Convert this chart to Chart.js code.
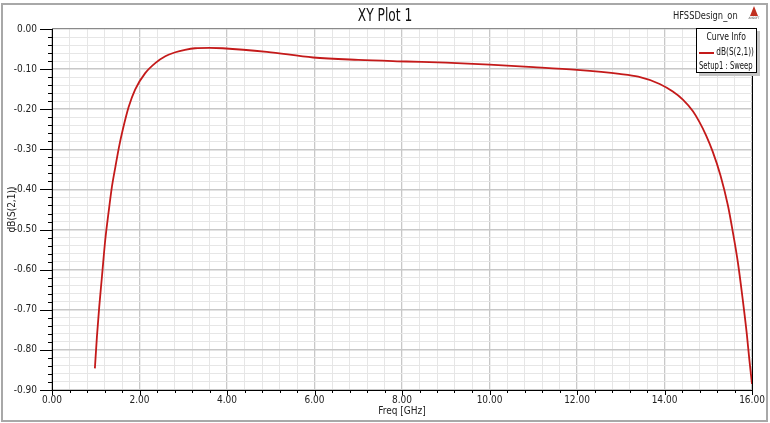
<!DOCTYPE html>
<html>
<head>
<meta charset="utf-8">
<script src="https://cdn.jsdelivr.net/npm/chart.js@4.4.0/dist/chart.umd.min.js"></script>
<style>
  body { margin: 0; background: #fff; }
  #wrap { position: relative; width: 770px; height: 423px; font-family: 'Liberation Sans Narrow', 'DejaVu Sans Condensed', 'Liberation Sans', Arial, sans-serif; }
  .sq { display: inline-block; white-space: nowrap; }
  #title { position: absolute; left: 0; width: 770px; top: 5px; text-align: center; font-size: 17px; color: #111; }
  #title .sq { transform: scaleX(0.8); }
  #design { position: absolute; left: 673px; top: 9px; font-size: 11px; color: #222; }
  #design .sq { transform: scaleX(0.84); transform-origin: left center; }
  #logo { position: absolute; left: 747px; top: 6px; width: 14px; text-align: center; font-size: 3px; line-height: 4px; color: #444; }
  #logo .tri { width: 0; height: 0; margin: 0 auto; border-left: 4px solid transparent; border-right: 4px solid transparent; border-bottom: 10px solid #c03020; }
  #legend { position: absolute; left: 696px; top: 28px; width: 59px; height: 43px; background: #fff; border: 1px solid #000; box-shadow: 3px 3px 0 #c4c4c4; font-size: 10px; color: #111; }
  #legend .hd { position: absolute; left: 0; right: 0; top: 2px; text-align: center; }
  #legend .hd .sq { transform: scaleX(0.85); }
  #legend .sw { position: absolute; left: 2px; top: 23px; width: 15px; height: 2px; background: #c41a1a; }
  #legend .nm { position: absolute; right: 2px; top: 17px; }
  #legend .nm .sq { transform: scaleX(0.82); transform-origin: right center; }
  #legend .st { position: absolute; left: 2px; top: 31px; }
  #legend .st .sq { transform: scaleX(0.76); transform-origin: left center; }
</style>
</head>
<body>
<div id="wrap">
  <canvas id="chart1" width="770" height="423"></canvas>
  <div id="title"><span class="sq">XY Plot 1</span></div>
  <div id="design"><span class="sq">HFSSDesign_on</span></div>
  <div id="logo"><div class="tri"></div>ANSOFT</div>
  <div id="legend">
    <div class="hd"><span class="sq">Curve Info</span></div>
    <div class="sw"></div>
    <div class="nm"><span class="sq">dB(S(2,1))</span></div>
    <div class="st"><span class="sq">Setup1 : Sweep</span></div>
  </div>
</div>
<script>
// frequency in GHz and dB(S(2,1))
var freq = [0.98, 1.027, 1.08, 1.142, 1.217, 1.292, 1.37, 1.45, 1.53, 1.62, 1.75, 1.90, 2.13, 2.36, 2.59, 2.82, 3.04, 3.27, 3.60, 3.90,
            4.91, 5.97, 7.00, 8.10, 9.00, 10.00, 11.00, 12.00, 12.97, 13.40, 13.89, 14.19, 14.42, 14.65, 14.80, 14.95,
            15.10, 15.28, 15.45, 15.56, 15.68, 15.79, 15.88, 15.94, 16.00];
var s21 = [-0.846, -0.767, -0.692, -0.617, -0.526, -0.458, -0.393, -0.343, -0.295, -0.250, -0.195, -0.151, -0.110, -0.085, -0.068, -0.058, -0.052, -0.048, -0.047, -0.048,
           -0.057, -0.071, -0.077, -0.081, -0.084, -0.089, -0.095, -0.102, -0.112, -0.119, -0.137, -0.156, -0.176, -0.205, -0.232, -0.265,
           -0.305, -0.365, -0.440, -0.505, -0.584, -0.676, -0.759, -0.825, -0.885];
var xMin = 0, xMax = 16, xStep = 0.4;
var yMin = -0.9, yMax = 0, yStep = 0.02;

var FONT = "'Liberation Sans Narrow', 'DejaVu Sans Condensed', 'Liberation Sans', Arial, sans-serif";

function isMajorX(v) { return Math.round(v * 10) % 20 == 0; }
function isMajorY(v) { return Math.round(Math.abs(v) * 100) % 10 == 0; }

var points = [];
for (var i = 0; i < freq.length; i++) {
  points.push({x: freq[i], y: s21[i]});
}

const decor = {
  id: 'decor',
  afterDraw(chart) {
    const ctx = chart.ctx, a = chart.chartArea;
    const xs = chart.scales.x, ys = chart.scales.y;
    function seg(x1, y1, x2, y2) { ctx.beginPath(); ctx.moveTo(x1, y1); ctx.lineTo(x2, y2); ctx.stroke(); }
    ctx.save();
    // outer frame
    ctx.strokeStyle = '#a8a8a8';
    ctx.lineWidth = 2;
    ctx.strokeRect(2, 4, 765, 417);
    // top and right edge of the plot
    ctx.lineWidth = 1;
    ctx.strokeStyle = '#8a8a8a';
    seg(a.left, Math.round(a.top) - 0.5, a.right, Math.round(a.top) - 0.5);
    ctx.strokeStyle = '#000';
    seg(Math.round(a.right) + 0.5, a.top, Math.round(a.right) + 0.5, a.bottom);
    // tick marks
    ys.ticks.forEach(function(t) {
      var y = Math.round(ys.getPixelForValue(t.value)) + 0.5;
      seg(a.left - (isMajorY(t.value) ? 12 : 4), y, a.left, y);
    });
    xs.ticks.forEach(function(t) {
      var x = Math.round(xs.getPixelForValue(t.value)) + 0.5;
      seg(x, a.bottom, x, a.bottom + (isMajorX(t.value) ? 5 : 3));
    });
    ctx.restore();
  }
};

Chart.defaults.font.family = FONT;
Chart.defaults.color = '#222';

new Chart(document.getElementById('chart1'), {
  type: 'line',
  data: {
    datasets: [{
      data: points,
      borderColor: '#c41a1a',
      borderWidth: 1.8,
      pointRadius: 0,
      fill: false,
      cubicInterpolationMode: 'monotone'
    }]
  },
  options: {
    responsive: false,
    animation: false,
    layout: { padding: { top: 29, right: 18, left: 0, bottom: 0 } },
    plugins: { legend: { display: false }, tooltip: { enabled: false } },
    scales: {
      x: {
        type: 'linear',
        min: xMin, max: xMax,
        afterFit: function(s) { s.height = 33; },
        ticks: {
          stepSize: xStep,
          autoSkip: false,
          maxRotation: 0,
          padding: 4,
          font: { size: 10 },
          callback: function(v) { return isMajorX(v) ? v.toFixed(2) : ''; }
        },
        grid: {
          drawTicks: false,
          color: function(c) { return isMajorX(c.tick.value) ? '#c8c8c8' : '#e6e6e6'; },
          lineWidth: function(c) { return isMajorX(c.tick.value) ? 1.3 : 1; }
        },
        border: { display: true, color: '#000', width: 1 },
        title: { display: true, text: 'Freq [GHz]', font: { size: 10 }, padding: { top: 6, bottom: 6 } }
      },
      y: {
        min: yMin, max: yMax,
        afterFit: function(s) { s.width = 52; },
        ticks: {
          stepSize: yStep,
          autoSkip: false,
          padding: 15,
          font: { size: 10 },
          callback: function(v) { return isMajorY(v) ? v.toFixed(2) : ''; }
        },
        grid: {
          drawTicks: false,
          color: function(c) { return isMajorY(c.tick.value) ? '#c8c8c8' : '#e6e6e6'; },
          lineWidth: function(c) { return isMajorY(c.tick.value) ? 1.6 : 1; }
        },
        border: { display: true, color: '#000', width: 1 },
        title: { display: true, text: 'dB(S(2,1))', font: { size: 10 }, padding: { top: 6, bottom: 0 } }
      }
    }
  },
  plugins: [decor]
});
</script>
</body>
</html>
